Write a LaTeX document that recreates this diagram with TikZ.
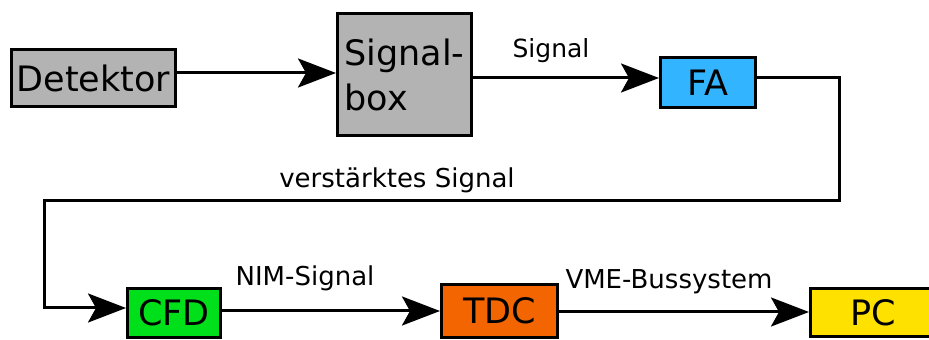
\documentclass[tikz,border=0pt]{standalone}
\usepackage{fontspec}
\setmainfont{DejaVu Sans}
\usetikzlibrary{arrows.meta}

\definecolor{boxgray}{HTML}{B3B3B3}
\definecolor{fablue}{HTML}{33B4FF}
\definecolor{cfdgreen}{HTML}{00E01A}
\definecolor{tdcorange}{HTML}{F26500}
\definecolor{pcyellow}{HTML}{FFE100}

\tikzset{
  unit/.style={draw=black, line width=3pt, inner sep=0pt,
    font=\fontsize{35}{45}\selectfont},
  conn/.style={line width=3pt, -{Stealth[length=38pt, width=29pt, inset=8pt]}},
  lbl/.style={inner sep=0pt, anchor=base}
}

\begin{document}
\begin{tikzpicture}[x=1pt, y=1pt]
  \useasboundingbox (0,0) rectangle (929,340);

  % signal chain units
  \node[unit, fill=boxgray, minimum width=164pt, minimum height=57pt]
    (det) at (93.5,262) {Detektor};
  \node[unit, fill=boxgray, minimum width=134pt, minimum height=122pt,
        align=left]
    (sb) at (404.5,265.5) {Signal-\\box};
  \node[unit, fill=fablue, minimum width=95pt, minimum height=50pt]
    (fa) at (708,257.5) {FA};
  \node[unit, fill=cfdgreen, minimum width=93pt, minimum height=49pt]
    (cfd) at (174,27) {CFD};
  \node[unit, fill=tdcorange, minimum width=116pt, minimum height=53pt]
    (tdc) at (499.5,29) {TDC};
  \node[unit, fill=pcyellow, minimum width=126pt, minimum height=48pt]
    (pc) at (873.5,27.5) {PC};

  % corners of the return line
  \coordinate (turnR) at (839,139);
  \coordinate (turnL) at (44,139);

  % connectors
  \draw[conn] ([yshift=5pt]det.east) -- ([yshift=1.5pt]sb.west);
  \draw[conn] ([yshift=-3.5pt]sb.east) -- ([yshift=4.5pt]fa.west);
  \draw[conn] ([yshift=4.5pt]fa.east) -| (turnR)
    -- (turnL) |- ([yshift=5pt]cfd.west);
  \draw[conn] ([yshift=2pt]cfd.east) -- (tdc.west);
  \draw[conn] ([yshift=-1pt]tdc.east) -- ([yshift=0.5pt]pc.west);

  % connector labels
  \node[lbl, font=\fontsize{25}{30}\selectfont] (lsig) at (551,282) {Signal};
  \node[lbl, font=\fontsize{26}{30}\selectfont] (lver) at (397,152) {verstärktes Signal};
  \node[lbl, font=\fontsize{26}{30}\selectfont] (lnim) at (305,54) {NIM-Signal};
  \node[lbl, font=\fontsize{26}{30}\selectfont] (lvme) at (669,51) {VME-Bussystem};
\end{tikzpicture}
\end{document}
